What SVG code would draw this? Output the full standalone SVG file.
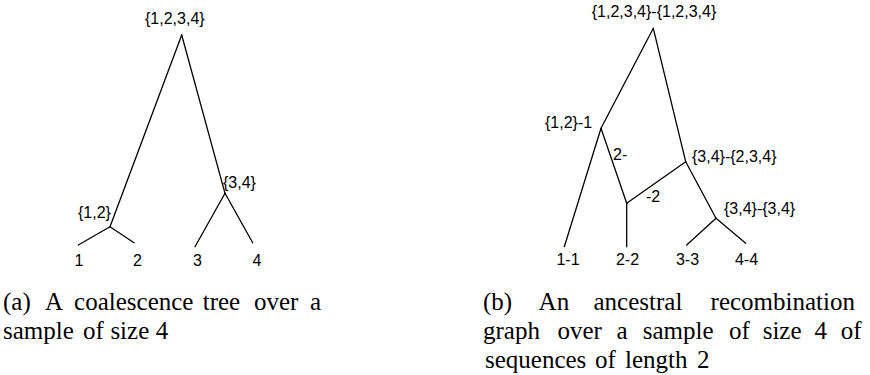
<svg xmlns="http://www.w3.org/2000/svg" width="870" height="375" viewBox="0 0 870 375">
<style>
.lbl{font-family:"Liberation Sans",Arial,sans-serif;font-size:16px;fill:#000}
.mid{text-anchor:middle}
.cap{font-family:"Liberation Serif","Times New Roman",serif;font-size:25px;fill:#000}
.edge{stroke:#000;stroke-width:1.3;fill:none;stroke-linecap:round}
</style>
<rect width="870" height="375" fill="#fff"/>
<g id="connectors">
<line class="edge" x1="181.7" y1="35" x2="110" y2="226.7"/>
<line class="edge" x1="181.7" y1="35" x2="225" y2="193.3"/>
<line class="edge" x1="110" y1="226.7" x2="78.3" y2="245"/>
<line class="edge" x1="110" y1="226.7" x2="134" y2="242.7"/>
<line class="edge" x1="225" y1="193.3" x2="195" y2="246.7"/>
<line class="edge" x1="225" y1="193.3" x2="252.7" y2="242.7"/>
<line class="edge" x1="653.3" y1="28.3" x2="601" y2="128.3"/>
<line class="edge" x1="653.3" y1="28.3" x2="685.7" y2="161.7"/>
<line class="edge" x1="601" y1="128.3" x2="564.3" y2="246.7"/>
<line class="edge" x1="601" y1="128.3" x2="626.7" y2="203.3"/>
<line class="edge" x1="626.7" y1="203.3" x2="626.7" y2="246.7"/>
<line class="edge" x1="626.7" y1="203.3" x2="685.7" y2="161.7"/>
<line class="edge" x1="685.7" y1="161.7" x2="716" y2="218.3"/>
<line class="edge" x1="716" y1="218.3" x2="686.7" y2="245"/>
<line class="edge" x1="716" y1="218.3" x2="745.7" y2="243.3"/>
</g>
<g id="a-root"><text class="lbl" x="145" y="24">{1,2,3,4}</text></g>
<g id="a-12"><text class="lbl" x="78" y="218">{1,2}</text></g>
<g id="a-34"><text class="lbl" x="223" y="188">{3,4}</text></g>
<g id="a-1"><text class="lbl mid" x="79" y="266">1</text></g>
<g id="a-2"><text class="lbl mid" x="137.5" y="266">2</text></g>
<g id="a-3"><text class="lbl mid" x="197.5" y="266">3</text></g>
<g id="a-4"><text class="lbl mid" x="257" y="266">4</text></g>
<g id="b-root"><text class="lbl mid" x="654" y="17">{1,2,3,4}-{1,2,3,4}</text></g>
<g id="b-12"><text class="lbl" x="545" y="128">{1,2}-1</text></g>
<g id="b-rec"><text class="lbl" x="613" y="160">2-</text><text class="lbl" x="646" y="202">-2</text></g>
<g id="b-34a"><text class="lbl" x="692" y="162">{3,4}-{2,3,4}</text></g>
<g id="b-34b"><text class="lbl" x="724" y="214">{3,4}-{3,4}</text></g>
<g id="b-11"><text class="lbl mid" x="568" y="265">1-1</text></g>
<g id="b-22"><text class="lbl mid" x="627.5" y="265">2-2</text></g>
<g id="b-33"><text class="lbl mid" x="687.5" y="265">3-3</text></g>
<g id="b-44"><text class="lbl mid" x="746.5" y="265">4-4</text></g>
<g id="caption-a">
<text class="cap" y="310"><tspan x="3">(a)</tspan><tspan x="44.9">A</tspan><tspan x="74.1">coalescence</tspan><tspan x="202.7">tree</tspan><tspan x="254">over</tspan><tspan x="309.9">a</tspan></text>
<text class="cap" y="339"><tspan x="3">sample</tspan><tspan x="83.1">of</tspan><tspan x="110.4">size</tspan><tspan x="155.8">4</tspan></text>
</g>
<g id="caption-b">
<text class="cap" y="310"><tspan x="483">(b)</tspan><tspan x="538.6">An</tspan><tspan x="593.5">ancestral</tspan><tspan x="710.6">recombination</tspan></text>
<text class="cap" y="339"><tspan x="483">graph</tspan><tspan x="557.4">over</tspan><tspan x="616.4">a</tspan><tspan x="642.7">sample</tspan><tspan x="729.1">of</tspan><tspan x="762.7">size</tspan><tspan x="814.4">4</tspan><tspan x="840.7">of</tspan></text>
<text class="cap" y="368"><tspan x="485">sequences</tspan><tspan x="595">of</tspan><tspan x="625">length</tspan><tspan x="697">2</tspan></text>
</g>
</svg>
